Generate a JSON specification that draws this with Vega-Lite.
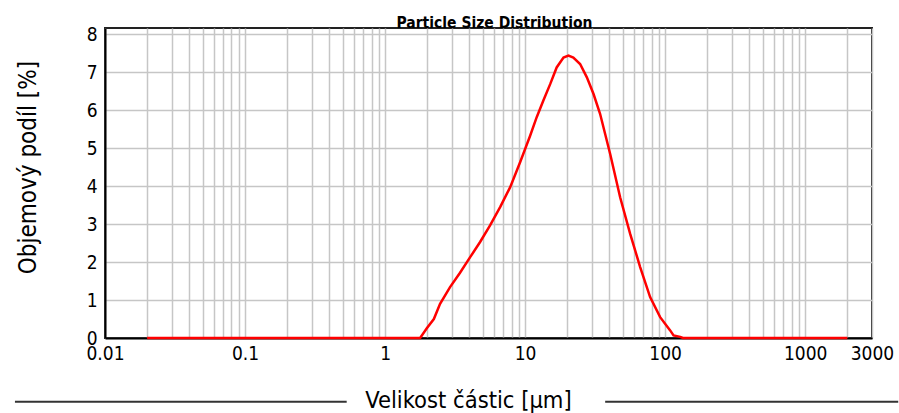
{
  "$schema": "https://vega.github.io/schema/vega-lite/v6.json",
  "width": 767,
  "height": 310,
  "autosize": {"type": "none"},
  "padding": {"left": 105, "top": 28, "right": 27, "bottom": 75},
  "background": "white",
  "title": {
    "text": "Particle Size Distribution",
    "font": "DejaVu Sans Condensed",
    "fontSize": 15.5,
    "fontWeight": "bold",
    "color": "black",
    "anchor": "middle",
    "baseline": "alphabetic",
    "offset": -18,
    "dx": 6
  },
  "config": {
    "view": {"stroke": "#222222", "strokeWidth": 2},
    "axisY": {
      "values": [0, 1, 2, 3, 4, 5, 6, 7, 8],
      "grid": true,
      "gridColor": "#c6c6c6",
      "gridWidth": 1.5,
      "ticks": false,
      "domainColor": "#000000",
      "domainWidth": 2,
      "labelFont": "DejaVu Sans Condensed",
      "labelFontSize": 19,
      "labelColor": "#000000",
      "labelPadding": 8,
      "labelOverlap": false,
      "titleFont": "DejaVu Sans Condensed",
      "titleFontSize": 24,
      "titleFontWeight": "normal",
      "titleColor": "#000000",
      "titleAngle": 270,
      "titleX": -70,
      "titleY": 139,
      "titleAlign": "center",
      "titleBaseline": "alphabetic"
    }
  },
  "datasets": {
    "psd": [
      {"size": 0.02, "volume": 0},
      {"size": 0.1, "volume": 0},
      {"size": 1, "volume": 0},
      {"size": 1.78, "volume": 0},
      {"size": 1.98, "volume": 0.25},
      {"size": 2.23, "volume": 0.5},
      {"size": 2.47, "volume": 0.9},
      {"size": 2.91, "volume": 1.34},
      {"size": 3.43, "volume": 1.72},
      {"size": 4.05, "volume": 2.13},
      {"size": 4.77, "volume": 2.53},
      {"size": 5.62, "volume": 2.97},
      {"size": 6.63, "volume": 3.45},
      {"size": 7.81, "volume": 3.97},
      {"size": 9.21, "volume": 4.63},
      {"size": 10.86, "volume": 5.33},
      {"size": 12.1, "volume": 5.82},
      {"size": 13.5, "volume": 6.26},
      {"size": 15.1, "volume": 6.69},
      {"size": 16.8, "volume": 7.13},
      {"size": 18.8, "volume": 7.39},
      {"size": 20.4, "volume": 7.44},
      {"size": 22.1, "volume": 7.39},
      {"size": 24.7, "volume": 7.22},
      {"size": 27.6, "volume": 6.87},
      {"size": 30.8, "volume": 6.43},
      {"size": 34.3, "volume": 5.91},
      {"size": 40.5, "volume": 4.85},
      {"size": 47.7, "volume": 3.71},
      {"size": 56.2, "volume": 2.75},
      {"size": 66.3, "volume": 1.87},
      {"size": 78.1, "volume": 1.08},
      {"size": 92.1, "volume": 0.55},
      {"size": 108.6, "volume": 0.2},
      {"size": 114.8, "volume": 0.07},
      {"size": 128, "volume": 0.03},
      {"size": 134, "volume": 0},
      {"size": 500, "volume": 0},
      {"size": 2000, "volume": 0}
    ],
    "deco": [
      {"from": 0.002275, "to": 0.532, "level": -1.68},
      {"from": 37.3, "to": 4617, "level": -1.68}
    ]
  },
  "layer": [
    {
      "data": {"name": "psd"},
      "mark": {"type": "line", "color": "#ff0000", "strokeWidth": 2.5},
      "encoding": {
        "x": {
          "field": "size",
          "type": "quantitative",
          "scale": {"type": "log", "domain": [0.01, 3000], "nice": false},
          "axis": {
            "title": "Velikost částic [μm]",
            "values": [0.01, 0.02, 0.03, 0.04, 0.05, 0.06, 0.07, 0.08, 0.09,
                       0.1, 0.2, 0.3, 0.4, 0.5, 0.6, 0.7, 0.8, 0.9,
                       1, 2, 3, 4, 5, 6, 7, 8, 9,
                       10, 20, 30, 40, 50, 60, 70, 80, 90,
                       100, 200, 300, 400, 500, 600, 700, 800, 900,
                       1000, 2000, 3000],
            "format": "~g",
            "labelExpr": "datum.value == 0.01 || datum.value == 0.1 || datum.value == 1 || datum.value == 10 || datum.value == 100 || datum.value == 1000 || datum.value == 3000 ? datum.label : ''",
            "grid": true,
            "gridColor": "#c6c6c6",
            "gridWidth": 1.5,
            "ticks": false,
            "domainColor": "#000000",
            "domainWidth": 2,
            "labelFont": "DejaVu Sans Condensed",
            "labelFontSize": 19,
            "labelColor": "#000000",
            "labelPadding": 6,
            "labelFlush": false,
            "labelOverlap": false,
            "labelDx": 4,
            "titleFont": "DejaVu Sans Condensed",
            "titleFontSize": 23.5,
            "titleFontWeight": "normal",
            "titleColor": "#000000",
            "titleX": 363,
            "titleY": 69,
            "titleAlign": "center",
            "titleBaseline": "alphabetic"
          }
        },
        "y": {
          "field": "volume",
          "type": "quantitative",
          "title": "Objemový podíl [%]",
          "scale": {"domain": [0, 8.17], "nice": false}
        }
      }
    },
    {
      "data": {"name": "deco"},
      "mark": {"type": "rule", "color": "#333333", "strokeWidth": 2},
      "encoding": {
        "x": {"field": "from", "type": "quantitative", "scale": {"type": "log", "domain": [0.01, 3000], "nice": false}},
        "x2": {"field": "to"},
        "y": {"field": "level", "type": "quantitative", "title": "Objemový podíl [%]", "scale": {"domain": [0, 8.17], "nice": false}}
      }
    }
  ]
}
